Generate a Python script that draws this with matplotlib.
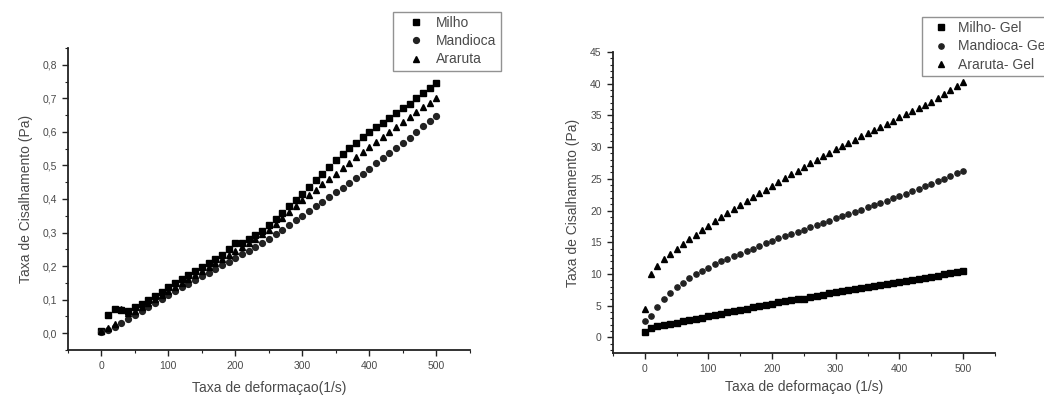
import matplotlib
matplotlib.use("Agg")
import matplotlib.pyplot as plt
from matplotlib.ticker import MultipleLocator, FuncFormatter

plt.rcParams['font.family'] = ['Liberation Sans', 'DejaVu Sans']

# shear rate (1/s)
taxa = [0, 10, 20, 30, 40, 50, 60, 70, 80, 90,
        100, 110, 120, 130, 140, 150, 160, 170, 180, 190,
        200, 210, 220, 230, 240, 250, 260, 270, 280, 290,
        300, 310, 320, 330, 340, 350, 360, 370, 380, 390,
        400, 410, 420, 430, 440, 450, 460, 470, 480, 490, 500]

# shear stress (Pa) - starch solutions
milho = [0.005, 0.053, 0.072, 0.068, 0.066, 0.078, 0.088, 0.100, 0.112, 0.124,
         0.138, 0.150, 0.162, 0.174, 0.186, 0.198, 0.210, 0.222, 0.234, 0.250,
         0.268, 0.270, 0.280, 0.292, 0.306, 0.322, 0.340, 0.358, 0.378, 0.397,
         0.416, 0.436, 0.456, 0.476, 0.496, 0.516, 0.534, 0.552, 0.568, 0.584,
         0.600, 0.614, 0.628, 0.642, 0.656, 0.670, 0.684, 0.700, 0.716, 0.731, 0.746]
mandioca = [0.003, 0.010, 0.018, 0.030, 0.042, 0.054, 0.066, 0.078, 0.090, 0.102,
            0.114, 0.125, 0.136, 0.147, 0.158, 0.169, 0.180, 0.191, 0.202, 0.213,
            0.224, 0.235, 0.246, 0.258, 0.270, 0.282, 0.295, 0.308, 0.322, 0.336,
            0.350, 0.364, 0.378, 0.392, 0.406, 0.420, 0.434, 0.448, 0.462, 0.476,
            0.490, 0.506, 0.521, 0.536, 0.551, 0.566, 0.583, 0.600, 0.617, 0.633, 0.648]
araruta = [0.006, 0.015, 0.028, 0.072, 0.060, 0.066, 0.078, 0.090, 0.102, 0.114,
           0.126, 0.138, 0.150, 0.162, 0.174, 0.186, 0.198, 0.210, 0.222, 0.234,
           0.246, 0.258, 0.270, 0.282, 0.295, 0.308, 0.324, 0.342, 0.360, 0.378,
           0.396, 0.412, 0.428, 0.444, 0.460, 0.476, 0.492, 0.508, 0.524, 0.540,
           0.556, 0.571, 0.586, 0.601, 0.616, 0.631, 0.645, 0.659, 0.673, 0.687, 0.701]

# shear stress (Pa) - gels
milho_gel = [0.8, 1.5, 1.7, 1.9, 2.1, 2.3, 2.5, 2.7, 2.9, 3.1,
             3.3, 3.5, 3.7, 3.9, 4.1, 4.3, 4.5, 4.7, 4.9, 5.1,
             5.3, 5.5, 5.65, 5.8, 5.95, 6.1, 6.3, 6.5, 6.7, 6.9,
             7.1, 7.25, 7.4, 7.55, 7.7, 7.9, 8.05, 8.2, 8.4, 8.55,
             8.7, 8.9, 9.05, 9.2, 9.4, 9.55, 9.7, 9.9, 10.1, 10.3, 10.5]
mandioca_gel = [2.6, 3.4, 4.8, 6.0, 7.0, 7.9, 8.6, 9.3, 9.9, 10.5,
                11.0, 11.5, 12.0, 12.4, 12.8, 13.2, 13.6, 14.0, 14.4, 14.8,
                15.2, 15.6, 15.95, 16.3, 16.65, 17.0, 17.35, 17.7, 18.05, 18.4,
                18.75, 19.1, 19.45, 19.8, 20.15, 20.5, 20.85, 21.2, 21.55, 21.9,
                22.25, 22.65, 23.05, 23.45, 23.85, 24.25, 24.65, 25.05, 25.45, 25.85, 26.3]
araruta_gel = [4.5, 10.0, 11.3, 12.3, 13.1, 13.9, 14.7, 15.5, 16.2, 16.9,
               17.6, 18.3, 19.0, 19.6, 20.3, 20.9, 21.5, 22.1, 22.7, 23.3,
               23.9, 24.5, 25.1, 25.7, 26.3, 26.9, 27.45, 28.0, 28.55, 29.1,
               29.65, 30.2, 30.7, 31.2, 31.7, 32.2, 32.7, 33.2, 33.7, 34.2,
               34.7, 35.2, 35.7, 36.2, 36.7, 37.2, 37.8, 38.4, 39.0, 39.6, 40.3]

grey = '#4a4a4a'


def style_axis(ax):
    for side in ('top', 'right'):
        ax.spines[side].set_visible(False)
    for side in ('left', 'bottom'):
        ax.spines[side].set_color('#222222')
        ax.spines[side].set_linewidth(1.3)
    ax.tick_params(which='major', direction='out', length=4.5, width=1,
                   colors='#222222', labelcolor=grey, labelsize=7.5)
    ax.tick_params(which='minor', direction='out', length=2.5, width=0.8,
                   colors='#222222')


def add_legend(ax, x, y, handlelength):
    leg = ax.legend(loc='upper left', bbox_to_anchor=(x, y),
                    bbox_transform=fig.transFigure, fontsize=10, frameon=True,
                    fancybox=False, edgecolor='#777777', numpoints=1,
                    handlelength=handlelength, handletextpad=0.1,
                    borderpad=0.3, labelspacing=0.3, borderaxespad=0)
    leg.get_frame().set_linewidth(1.0)
    for t in leg.get_texts():
        t.set_color(grey)
    return leg


fig = plt.figure(figsize=(10.44, 3.98), dpi=100)

# starch solutions
ax1 = fig.add_axes([0.065, 0.121, 0.385, 0.758])
ax1.plot(taxa, milho, 's', color='black', ms=4.2, label='Milho')
ax1.plot(taxa, mandioca, 'o', color='#222222', ms=4.2, label='Mandioca')
ax1.plot(taxa, araruta, '^', color='black', ms=4.4, label='Araruta')
ax1.set_xlim(-50, 550)
ax1.set_ylim(-0.05, 0.85)
ax1.xaxis.set_major_locator(MultipleLocator(100))
ax1.xaxis.set_minor_locator(MultipleLocator(50))
ax1.yaxis.set_major_locator(MultipleLocator(0.1))
ax1.yaxis.set_minor_locator(MultipleLocator(0.05))
ax1.yaxis.set_major_formatter(FuncFormatter(lambda v, p: f'{v:.1f}'.replace('.', ',')))
style_axis(ax1)
ax1.set_xlabel('Taxa de deformaçao(1/s)', fontsize=10, color=grey, labelpad=7)
ax1.set_ylabel('Taxa de Cisalhamento (Pa)', fontsize=10, color=grey, labelpad=7)
add_legend(ax1, 0.3764, 0.970, 2.7)

# gels
ax2 = fig.add_axes([0.587, 0.113, 0.366, 0.756])
ax2.plot(taxa, milho_gel, 's', color='black', ms=4.6, label='Milho- Gel')
ax2.plot(taxa, mandioca_gel, 'o', color='#222222', ms=3.8, label='Mandioca- Gel')
ax2.plot(taxa, araruta_gel, '^', color='black', ms=4.0, label='Araruta- Gel')
ax2.set_xlim(-50, 550)
ax2.set_ylim(-2.5, 45)
ax2.xaxis.set_major_locator(MultipleLocator(100))
ax2.xaxis.set_minor_locator(MultipleLocator(50))
ax2.yaxis.set_major_locator(MultipleLocator(5))
ax2.yaxis.set_minor_locator(MultipleLocator(1))
style_axis(ax2)
ax2.set_xlabel('Taxa de deformaçao (1/s)', fontsize=10, color=grey, labelpad=4)
ax2.set_ylabel('Taxa de Cisalhamento (Pa)', fontsize=10, color=grey, labelpad=7)
# the legend runs past the right edge of the figure, as in the source chart
add_legend(ax2, 0.883, 0.957, 2.2)

fig.savefig('out.png', dpi=100)
